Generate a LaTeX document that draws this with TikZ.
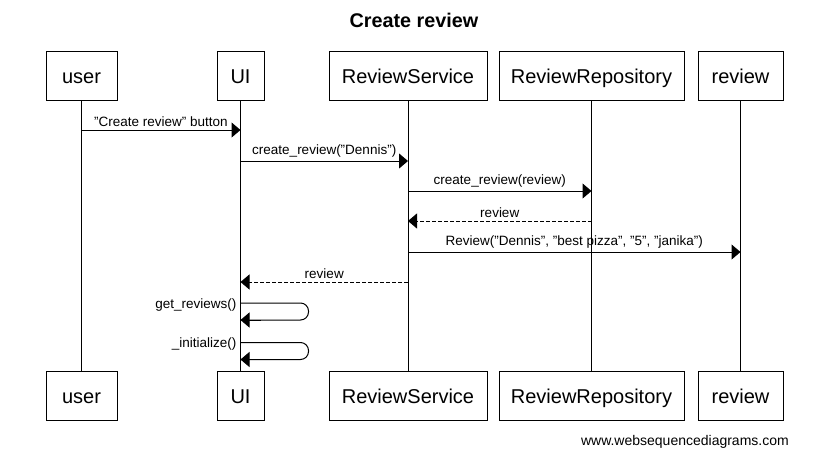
\documentclass[tikz,border=0pt]{standalone}
\usepackage{fontspec}
\setmainfont{Liberation Sans}
\usetikzlibrary{arrows.meta}
\newcommand\qd{\symbol{34}}
\begin{document}
\begin{tikzpicture}[x=1pt,y=-1pt,
  actor/.style={draw,line width=1pt,fill=white,minimum height=49pt,inner xsep=0pt,text height=15pt,text depth=0pt,font=\fontsize{20}{22}\selectfont},
  life/.style={line width=1pt},
  msg/.style={line width=1pt,-{Triangle[length=9pt,width=15pt]}},
  ret/.style={msg,dash pattern=on 4pt off 2pt},
  lbl/.style={font=\fontsize{13.5}{15}\selectfont,inner sep=0pt,anchor=base},
  self/.style={line width=1pt,rounded corners=8pt}]
\useasboundingbox (0,0) rectangle (828,459);
\node[font=\bfseries\fontsize{19.8}{22}\selectfont] (title) at (414,20) {Create review};
% top actors
\node[actor,minimum width=71pt] (u1) at (81.5,75.5) {user};
\node[actor,minimum width=47pt] (ui1) at (240.5,75.5) {UI};
\node[actor,minimum width=158pt] (rs1) at (408,75.5) {ReviewService};
\node[actor,minimum width=185pt] (rr1) at (591.5,75.5) {ReviewRepository};
\node[actor,minimum width=85pt] (r1) at (740.5,75.5) {review};
% bottom actors
\node[actor,minimum width=71pt] (u2) at (81.5,396) {user};
\node[actor,minimum width=47pt] (ui2) at (240.5,396) {UI};
\node[actor,minimum width=158pt] (rs2) at (408,396) {ReviewService};
\node[actor,minimum width=185pt] (rr2) at (591.5,396) {ReviewRepository};
\node[actor,minimum width=85pt] (r2) at (740.5,396) {review};
% lifelines
\foreach \a in {u,ui,rs,rr,r}{\draw[life] (\a1.south) -- (\a2.north);}
% message anchor coordinates
\coordinate (m1a) at (u1.south |- 0,130); \coordinate (m1b) at (ui1.south |- 0,130);
\coordinate (m2a) at (ui1.south |- 0,161); \coordinate (m2b) at (rs1.south |- 0,161);
\coordinate (m3a) at (rs1.south |- 0,191); \coordinate (m3b) at (rr1.south |- 0,191);
\coordinate (m4a) at (rr1.south |- 0,221); \coordinate (m4b) at (rs1.south |- 0,221);
\coordinate (m5a) at (rs1.south |- 0,252); \coordinate (m5b) at (r1.south |- 0,252);
\coordinate (m6a) at (rs1.south |- 0,282); \coordinate (m6b) at (ui1.south |- 0,282);
\coordinate (s1a) at (ui1.south |- 0,303); \coordinate (s1b) at (ui1.south |- 0,320);
\coordinate (s2a) at (ui1.south |- 0,342.5); \coordinate (s2b) at (ui1.south |- 0,359.5);
\draw[msg] (m1a) -- node[lbl,above=3pt] {\qd Create review\qd{} button} (m1b);
\draw[msg] (m2a) -- node[lbl,above=3pt] {create\_review(\qd Dennis\qd)} (m2b);
\draw[msg] (m3a) -- node[lbl,above=3pt] {create\_review(review)} (m3b);
\draw[ret] (m4a) -- node[lbl,above=3pt] {review} (m4b);
\draw[msg] (m5a) -- node[lbl,above=3pt] {Review(\qd Dennis\qd, \qd best pizza\qd, \qd 5\qd, \qd janika\qd)} (m5b);
\draw[ret] (m6a) -- node[lbl,above=3pt] {review} (m6b);
\draw[self] (s1a) -- ++(68,0) |- (s1b);
\draw[msg] ([xshift=20pt]s1b) -- (s1b);
\draw[self] (s2a) -- ++(68,0) |- (s2b);
\draw[msg] ([xshift=20pt]s2b) -- (s2b);
\node[lbl,anchor=base east] (l1) at ([xshift=-4pt,yshift=-5pt]s1a) {get\_reviews()};
\node[lbl,anchor=base east] (l2) at ([xshift=-4pt,yshift=-5pt]s2a) {\_initialize()};
\node[font=\fontsize{14}{16}\selectfont,anchor=base east,inner sep=0pt] (foot) at (789,445) {www.websequencediagrams.com};
\end{tikzpicture}
\end{document}
